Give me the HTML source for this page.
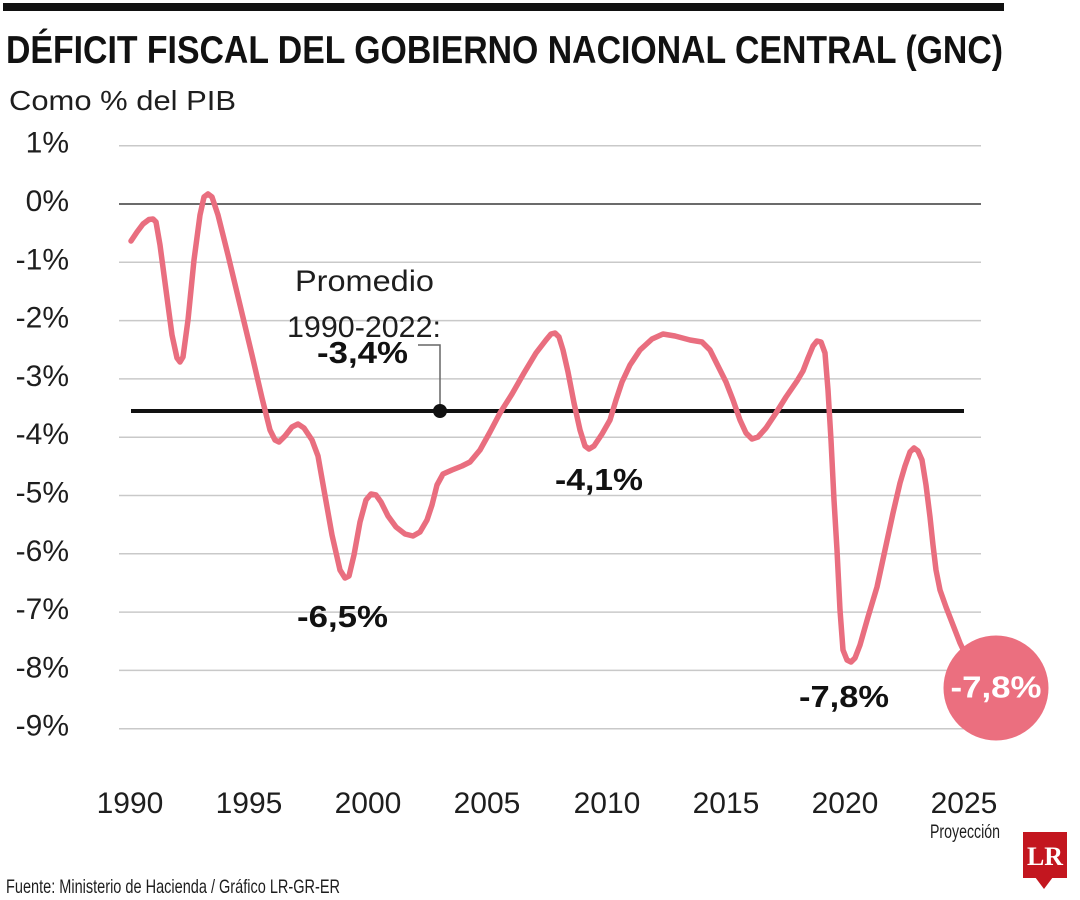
<!DOCTYPE html>
<html>
<head>
<meta charset="utf-8">
<style>
  html, body { margin: 0; padding: 0; background: #ffffff; }
  svg { display: block; }
  .lt { font-family: "Liberation Sans", sans-serif; fill: #1e1e1e; }
  .bd { font-family: "Liberation Sans", sans-serif; font-weight: bold; fill: #111; }
</style>
</head>
<body>
<svg width="1080" height="900" viewBox="0 0 1080 900" xmlns="http://www.w3.org/2000/svg">
  <rect x="0" y="0" width="1080" height="900" fill="#ffffff"/>
  <!-- top bar -->
  <rect x="3" y="3" width="1001" height="8" fill="#111"/>
  <!-- title -->
  <text class="bd" x="6" y="63" font-size="39" textLength="997" lengthAdjust="spacingAndGlyphs">DÉFICIT FISCAL DEL GOBIERNO NACIONAL CENTRAL (GNC)</text>
  <text class="lt" x="9" y="110" font-size="27.5" textLength="227" lengthAdjust="spacingAndGlyphs">Como % del PIB</text>

  <!-- gridlines -->
  <g stroke="#c9c9c9" stroke-width="1.5">
    <line x1="119" y1="145.7" x2="981" y2="145.7"/>
    <line x1="119" y1="262.3" x2="981" y2="262.3"/>
    <line x1="119" y1="320.6" x2="981" y2="320.6"/>
    <line x1="119" y1="378.9" x2="981" y2="378.9"/>
    <line x1="119" y1="437.2" x2="981" y2="437.2"/>
    <line x1="119" y1="495.5" x2="981" y2="495.5"/>
    <line x1="119" y1="553.8" x2="981" y2="553.8"/>
    <line x1="119" y1="612.1" x2="981" y2="612.1"/>
    <line x1="119" y1="670.4" x2="981" y2="670.4"/>
    <line x1="119" y1="728.7" x2="981" y2="728.7"/>
  </g>
  <line x1="119" y1="204" x2="981" y2="204" stroke="#3a3a3a" stroke-width="1.5"/>

  <!-- y labels -->
  <g class="lt" font-size="30" text-anchor="end">
    <text x="69" y="152.7">1%</text>
    <text x="69" y="211">0%</text>
    <text x="69" y="269.3">-1%</text>
    <text x="69" y="327.6">-2%</text>
    <text x="69" y="385.9">-3%</text>
    <text x="69" y="444.2">-4%</text>
    <text x="69" y="502.5">-5%</text>
    <text x="69" y="560.8">-6%</text>
    <text x="69" y="619.1">-7%</text>
    <text x="69" y="677.4">-8%</text>
    <text x="69" y="735.7">-9%</text>
  </g>

  <!-- x labels -->
  <g class="lt" font-size="30" text-anchor="middle">
    <text x="130" y="813">1990</text>
    <text x="249" y="813">1995</text>
    <text x="368" y="813">2000</text>
    <text x="487" y="813">2005</text>
    <text x="607" y="813">2010</text>
    <text x="726" y="813">2015</text>
    <text x="845" y="813">2020</text>
    <text x="964" y="813">2025</text>
  </g>
  <text class="lt" x="930" y="838" font-size="19" textLength="70" lengthAdjust="spacingAndGlyphs">Proyección</text>

  <!-- average line -->
  <line x1="131" y1="411" x2="964" y2="411" stroke="#111" stroke-width="4"/>
  <polyline points="440,411 440,345 418,345" fill="none" stroke="#666" stroke-width="1.5"/>
  <circle cx="440" cy="411" r="7" fill="#111"/>

  <text class="lt" x="364.5" y="291" font-size="30" text-anchor="middle" textLength="139" lengthAdjust="spacingAndGlyphs">Promedio</text>
  <text class="lt" x="364" y="337" font-size="30" text-anchor="middle" textLength="154" lengthAdjust="spacingAndGlyphs">1990-2022:</text>
  <text class="bd" x="317" y="363" font-size="31" textLength="91" lengthAdjust="spacingAndGlyphs">-3,4%</text>

  <!-- series -->
  <polyline fill="none" stroke="#e96e7f" stroke-width="5.5" stroke-linejoin="round" stroke-linecap="round" points="
131,241 137,232 143,224 149,219.5 153,219 156,222 160,245 166,290 172,335 177,358 180,362 183,357 188,320 194,260 200,215 204,197 208,194 212,197 218,215 228,255 240,305 252,355 262,398 270,430 275,440 279,442 285,436 292,427 298,424 304,428 312,440 318,456 324,490 332,535 340,570 345,578 349,576 354,555 360,522 366,500 371,494 376,495 381,502 388,516 396,527 405,534 413,536 420,532 427,520 432,505 437,485 443,474 452,470 462,466 470,462 480,450 490,432 500,413 512,394 524,373 536,353 546,340 551,334 555,333 559,337 563,350 568,372 574,403 580,430 585,446 589,449 594,446 602,434 610,420 616,400 622,382 630,365 640,350 652,339 663,334 675,336 690,340 702,342 710,350 718,366 726,382 733,400 740,420 746,433 752,439 758,437 766,428 776,413 786,397 797,381 803,371 808,358 813,346 817,341 821,342 825,353 828,390 831,440 834,500 837,550 840,610 843,650 847,660 851,662 855,658 860,645 868,617 877,587 885,550 893,513 900,483 905,466 910,452 914,448 918,451 922,460 926,485 930,517 933,545 936,570 940,590 946,607 953,625 960,643 968,660"/>

  <!-- annotations -->
  <text class="bd" x="555" y="490" font-size="31" textLength="88" lengthAdjust="spacingAndGlyphs">-4,1%</text>
  <text class="bd" x="297" y="627" font-size="31" textLength="91" lengthAdjust="spacingAndGlyphs">-6,5%</text>
  <text class="bd" x="799" y="707" font-size="31" textLength="90" lengthAdjust="spacingAndGlyphs">-7,8%</text>

  <!-- end circle -->
  <circle cx="996" cy="688" r="52.5" fill="#eb6f7f"/>
  <text x="996" y="697.5" font-family="Liberation Sans, sans-serif" font-weight="bold" font-size="31" fill="#ffffff" text-anchor="middle" textLength="91" lengthAdjust="spacingAndGlyphs">-7,8%</text>

  <!-- footer -->
  <text class="lt" x="6" y="893" font-size="19.5" textLength="334" lengthAdjust="spacingAndGlyphs">Fuente: Ministerio de Hacienda / Gráfico LR-GR-ER</text>

  <!-- LR logo -->
  <rect x="1023" y="832" width="44" height="46" fill="#c3161f"/>
  <polygon points="1035,877 1053,877 1044,889" fill="#c3161f"/>
  <text x="1045" y="865" font-family="Liberation Serif, serif" font-weight="bold" font-size="26" fill="#ffffff" text-anchor="middle" textLength="36" lengthAdjust="spacingAndGlyphs">LR</text>
</svg>
</body>
</html>
